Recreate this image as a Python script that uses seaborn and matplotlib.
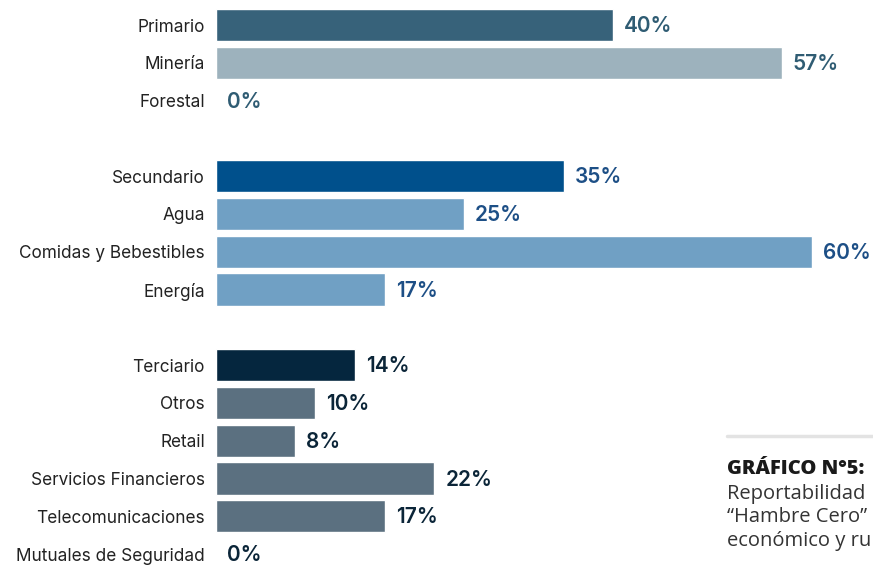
import matplotlib
matplotlib.use("Agg")
import matplotlib.pyplot as plt
import seaborn as sns
import pandas as pd
import numpy as np

# filas del gráfico (los espacios vacíos separan los sectores)
categorias = ["Primario", "Minería", "Forestal", " ",
              "Secundario", "Agua", "Comidas y Bebestibles", "Energía", "  ",
              "Terciario", "Otros", "Retail", "Servicios Financieros",
              "Telecomunicaciones", "Mutuales de Seguridad"]
valores = [40, 57, 0, np.nan,
           35, 25, 60, 17, np.nan,
           14, 10, 8, 22, 17, 0]
colores_barra = ["#37627a", "#9db2bd", "#9db2bd", "#ffffff",
                 "#00508c", "#70a0c4", "#70a0c4", "#70a0c4", "#ffffff",
                 "#05263e", "#5b7080", "#5b7080", "#5b7080", "#5b7080", "#5b7080"]
colores_texto = ["#2f5c73"] * 4 + ["#1d4f86"] * 5 + ["#0b2538"] * 6

df = pd.DataFrame({"categoria": categorias, "valor": valores})
paleta = dict(zip(categorias, colores_barra))

sns.set_style("white")
plt.rcParams["font.family"] = ["Inter", "DejaVu Sans"]

fig = plt.figure(figsize=(8.73, 5.65), dpi=100)
ax = fig.add_axes([216 / 873, 0, 657 / 873, 1])

sns.barplot(data=df, y="categoria", x="valor", hue="categoria", palette=paleta,
            order=categorias, hue_order=categorias, legend=False,
            orient="h", width=0.85, saturation=1, ax=ax)

paso = 37.79
ax.set_ylim((565 - 25) / paso, -25 / paso)
ax.set_xlim(0, 657 / 9.93)

for i, (v, c) in enumerate(zip(valores, colores_texto)):
    if np.isnan(v):
        continue
    ax.text(v + 1.1, i + 0.03, f"{v:.0f}%", va="center", ha="left",
            fontsize=15, fontweight=600, color=c)

ax.set_yticks(range(len(categorias)))
ax.set_yticklabels(categorias, fontsize=12.4, color="#222222")
ax.tick_params(axis="y", length=0, pad=8)
ax.set_xticks([])
ax.set_xlabel("")
ax.set_ylabel("")
sns.despine(ax=ax, left=True, bottom=True)

# recuadro lateral del título (cortado en el borde, como en la imagen)
fig.add_artist(plt.Line2D([727 / 873, 1], [1 - 436 / 565] * 2,
                          color="#e3e3e3", lw=2.5))
fig.text(727 / 873, 1 - 469 / 565, "GRÁFICO N°5:", fontsize=14.5,
         fontweight=800, color="#1a1a1a", va="center",
         family=["Open Sans", "DejaVu Sans"])
lineas = ["Reportabilidad", "“Hambre Cero”", "económico y ru"]
for k, t in enumerate(lineas):
    fig.text(727 / 873, 1 - (494 + 23.5 * k) / 565, t, fontsize=14.5,
             color="#333333", va="center", family=["Open Sans", "DejaVu Sans"])

fig.savefig("out.png", dpi=100)
